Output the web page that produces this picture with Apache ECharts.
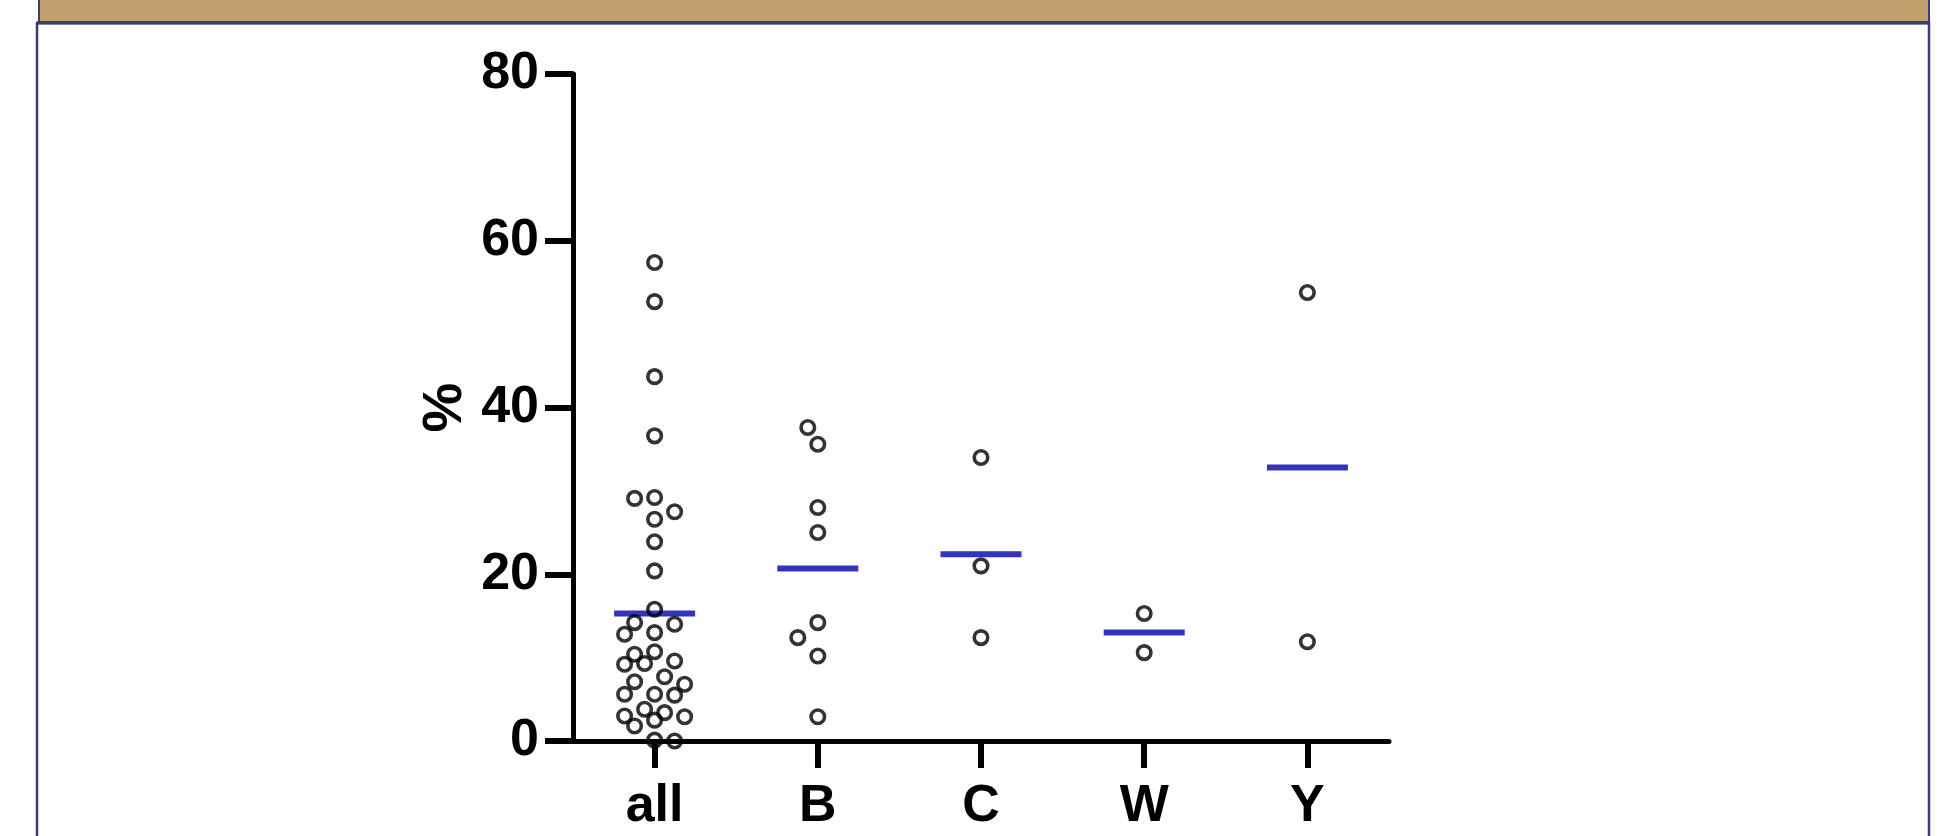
<!DOCTYPE html>
<html>
<head>
<meta charset="utf-8">
<script src="https://cdn.jsdelivr.net/npm/echarts@6/dist/echarts.min.js"></script>
<style>
  html, body { margin: 0; padding: 0; background: #ffffff; }
  #chart { width: 1945px; height: 836px; }
</style>
</head>
<body>
<div id="chart"></div>
<script>
// ---- data ----
const categories = ['all', 'B', 'C', 'W', 'Y'];
const allValues = [57.4, 52.7, 43.7, 36.6, 26.6, 29.2, 29.1, 27.5, 23.9, 20.4, 15.8,
                   14.2, 14.0, 13.0, 12.8, 10.7, 10.4, 9.6, 9.3, 9.2, 7.7, 7.1, 6.8,
                   5.6, 5.6, 5.5, 3.8, 3.4, 3.0, 2.9, 2.5, 1.8, 0.1, 0.0];
const bValues = [35.6, 37.6, 28.0, 25.0, 14.2, 12.4, 10.2, 2.9];
const cValues = [34.0, 21.0, 12.4];
const wValues = [15.3, 10.6];
const yValues = [53.8, 11.9];
const meanValues = [15.3, 20.7, 22.4, 13.0, 32.8];
const yMin = 0, yMax = 80, yStep = 20;
const yAxisTitle = '%';

// ---- layout ----
const GRID = { left: 573, top: 74, width: 816, height: 667 };
const FONT = "'Liberation Sans', Arial, Helvetica, sans-serif";
const LANE_PX = 10;      // horizontal step of the dot swarm
const MAX_LANES = 3;     // swarm half-width in lanes
const MIN_DIST_PX = 19;  // preferred distance between dot centres

const groups = [allValues, bValues, cValues, wValues, yValues];
const pxPerY = GRID.height / (yMax - yMin);
const pxPerCat = GRID.width / categories.length;

// simple beeswarm: each dot takes the lane nearest the centre that does not collide;
// if every lane collides, it takes the lane with the most room
function swarm(values, catIndex) {
  const placed = [];
  const out = [];
  const lanes = [0];
  for (let k = 1; k <= MAX_LANES; k++) lanes.push(-k, k);
  values.forEach(v => {
    const py = v * pxPerY;
    let chosen = null, best = -1, bestPx = 0;
    for (const k of lanes) {
      const px = k * LANE_PX;
      let dmin = Infinity;
      placed.forEach(p => { dmin = Math.min(dmin, Math.hypot(p[0] - px, p[1] - py)); });
      if (dmin >= MIN_DIST_PX) { chosen = px; break; }
      if (dmin > best + 0.5) { best = dmin; bestPx = px; }
    }
    if (chosen === null) chosen = bestPx;
    placed.push([chosen, py]);
    out.push([catIndex + chosen / pxPerCat, v]);
  });
  return out;
}

const dotData = [];
groups.forEach((vals, i) => swarm(vals, i).forEach(d => dotData.push(d)));

const chart = echarts.init(document.getElementById('chart'));
chart.setOption({
  animation: false,
  backgroundColor: '#ffffff',
  graphic: [
    { type: 'rect', z: -10, shape: { x: 37, y: 23, width: 1892, height: 840 },
      style: { fill: '#ffffff', stroke: '#3b3b7a', lineWidth: 2.5 } },
    { type: 'rect', z: -9, shape: { x: 39, y: -3, width: 1890, height: 25 },
      style: { fill: '#c2a06b', stroke: '#3b3b7a', lineWidth: 2 } },
    { type: 'rect', z: -8, shape: { x: 37, y: 21, width: 1893, height: 3.5 },
      style: { fill: '#3b3b7a' } }
  ],
  grid: { left: GRID.left, top: GRID.top, width: GRID.width, height: GRID.height, containLabel: false },
  xAxis: [
    {
      type: 'category', data: categories, boundaryGap: true,
      axisLine: { show: true, onZero: false, lineStyle: { color: '#000', width: 5 } },
      axisTick: { show: true, alignWithLabel: true, length: 27, lineStyle: { color: '#000', width: 6 } },
      axisLabel: { color: '#000', fontSize: 52, fontWeight: 'bold', fontFamily: FONT, margin: 40 },
      splitLine: { show: false }
    },
    { type: 'value', min: -0.5, max: 4.5, show: false }
  ],
  yAxis: {
    type: 'value', min: yMin, max: yMax, interval: yStep,
    name: yAxisTitle, nameLocation: 'middle', nameGap: 99, nameRotate: 90,
    nameTextStyle: { color: '#000', fontSize: 56, fontWeight: 'bold', fontFamily: FONT },
    axisLine: { show: true, onZero: false, lineStyle: { color: '#000', width: 5 } },
    axisTick: { show: true, length: 28, lineStyle: { color: '#000', width: 6 } },
    axisLabel: { color: '#000', fontSize: 52, fontWeight: 'bold', fontFamily: FONT, margin: 34,
                 padding: [10, 0, 0, 0] },
    splitLine: { show: false }
  },
  series: [
    {
      name: 'mean', type: 'scatter', xAxisIndex: 0, z: 2,
      symbol: 'rect', symbolSize: [81, 6],
      itemStyle: { color: '#0000aa' },
      data: meanValues
    },
    {
      name: 'values', type: 'scatter', xAxisIndex: 1, z: 3,
      symbol: 'circle', symbolSize: 13.5,
      itemStyle: { color: 'rgba(0,0,0,0)', borderColor: '#000', borderWidth: 3.6 },
      data: dotData
    }
  ]
});
</script>
</body>
</html>
